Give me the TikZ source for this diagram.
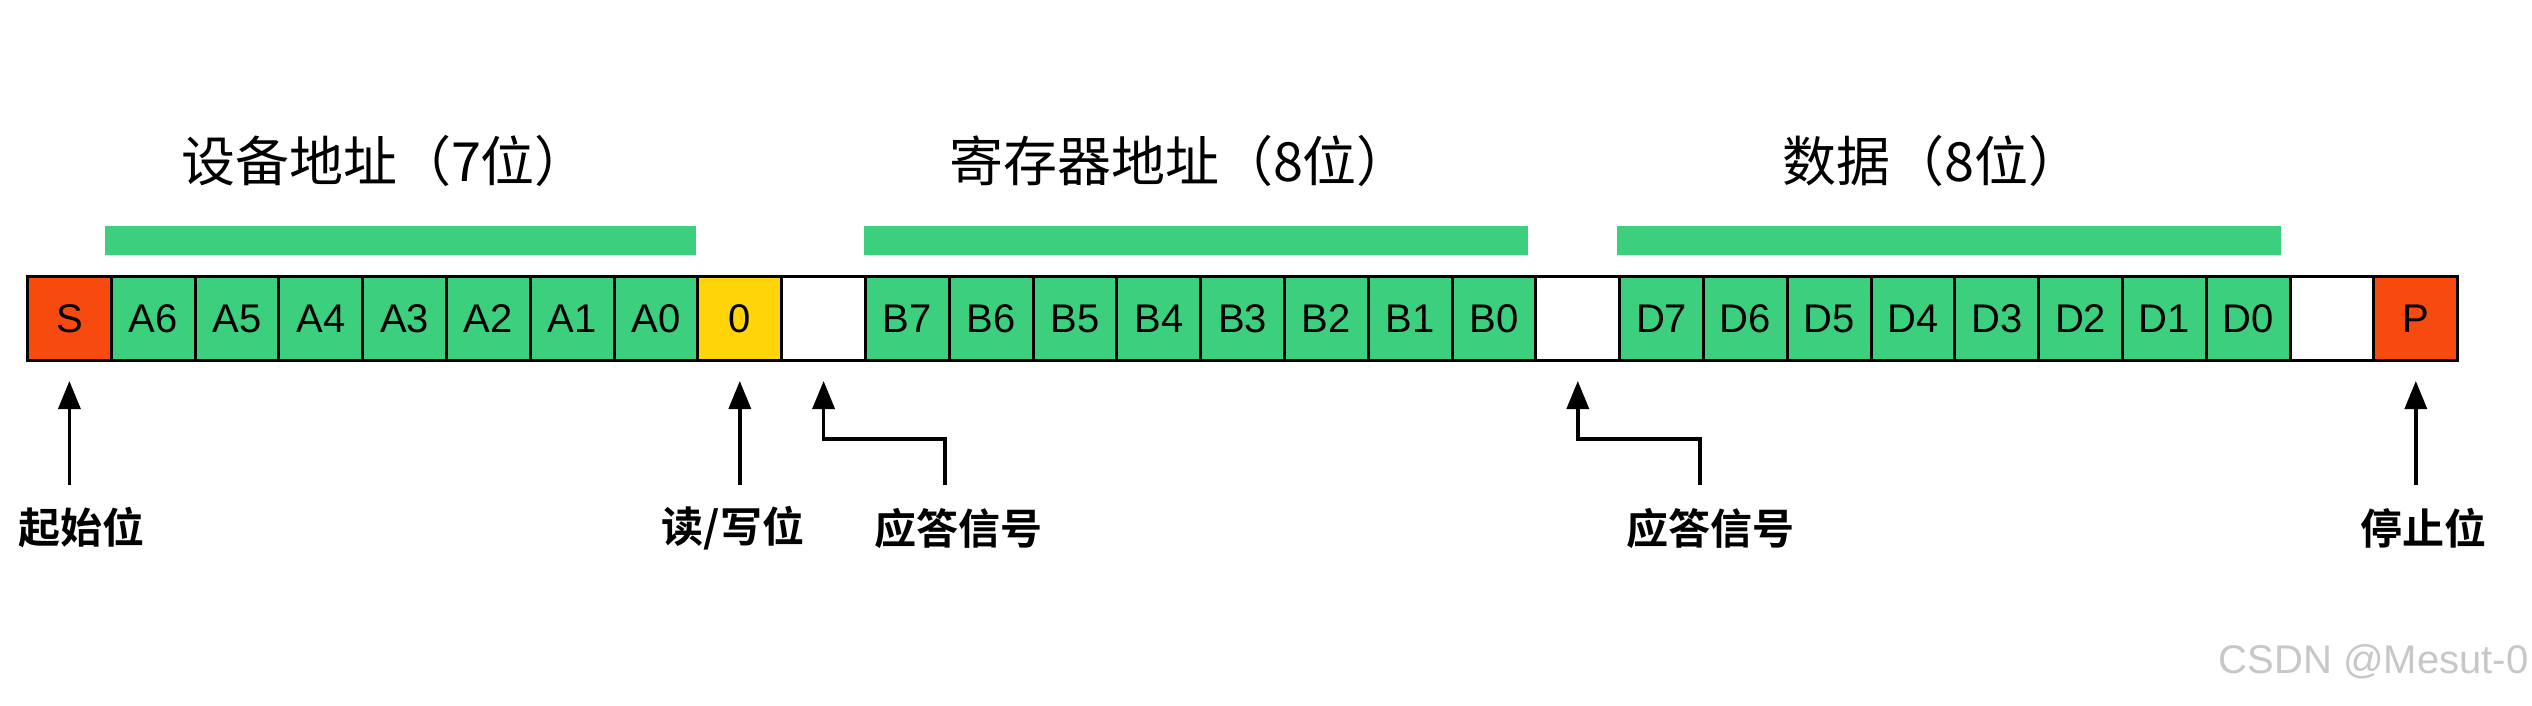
\documentclass[tikz,border=0pt]{standalone}
\usepackage{fontspec}
\setmainfont{Liberation Sans}
\newfontfamily\cjk{Noto Sans CJK SC}
\newfontfamily\cjkb{Noto Sans CJK SC Bold}
\usetikzlibrary{arrows.meta}
\definecolor{cred}{HTML}{F64A0F}
\definecolor{cgreen}{HTML}{3CCF7E}
\definecolor{cyellow}{HTML}{FFD50A}
\tikzset{
 cell/.style={draw=black,line width=3pt,minimum width=83.8pt,minimum height=84pt,inner sep=0pt,font=\fontsize{40}{40}\selectfont,anchor=north west},
 gbar/.style={fill=cgreen,draw=none},
 ttl/.style={font=\cjk\fontsize{54}{54}\selectfont},
 lbl/.style={font=\cjkb\fontsize{42}{42}\selectfont},
 arr/.style={line width=3.5pt,-{Triangle[length=28pt,width=22pt]}}
}
\begin{document}
\begin{tikzpicture}[x=1pt,y=-1pt]
\useasboundingbox (0,0) rectangle (2532,706);
\def\cells{S/cred,A6/cgreen,A5/cgreen,A4/cgreen,A3/cgreen,A2/cgreen,A1/cgreen,A0/cgreen,0/cyellow,/white,B7/cgreen,B6/cgreen,B5/cgreen,B4/cgreen,B3/cgreen,B2/cgreen,B1/cgreen,B0/cgreen,/white,D7/cgreen,D6/cgreen,D5/cgreen,D4/cgreen,D3/cgreen,D2/cgreen,D1/cgreen,D0/cgreen,/white,P/cred}
\foreach [count=\i from 0] \t/\c in \cells {
  \node[cell,fill=\c] (c\i) at ({26+\i*83.8},275) {\t};
}
\fill[gbar] (105,226) rectangle (696,255);
\fill[gbar] (864,226) rectangle (1528,255);
\fill[gbar] (1617,226) rectangle (2281,255);
\node[ttl] (t1) at (385,161) {设备地址（7位）};
\node[ttl] (t2) at (1180,161) {寄存器地址（8位）};
\node[ttl] (t3) at (1932,161) {数据（8位）};
\node[lbl] (l1) at (81,528) {起始位};
\node[lbl] (l2) at (733,528) {读/写位};
\node[lbl] (l3) at (958,528) {应答信号};
\node[lbl] (l4) at (1710,528) {应答信号};
\node[lbl] (l5) at (2423,528) {停止位};
\coordinate (a1) at (c0.south |- 0,381);
\coordinate (a2) at (c8.south |- 0,381);
\coordinate (a3) at (c9.south |- 0,381);
\coordinate (a4) at (c18.south |- 0,381);
\coordinate (a5) at (c28.south |- 0,381);
\draw[arr] (c0.south |- 0,485) -- (a1);
\draw[arr] (c8.south |- 0,485) -- (a2);
\draw[arr] (c28.south |- 0,485) -- (a5);
\draw[arr] (945,485) -- (945,439) -- (c9.south |- 0,439) -- (a3);
\draw[arr] (1700,485) -- (1700,439) -- (c18.south |- 0,439) -- (a4);
\node[font=\fontsize{40}{40}\selectfont,text=black!22,anchor=east] (wm) at (2532,662) {CSDN @Mesut-0};
\end{tikzpicture}
\end{document}
